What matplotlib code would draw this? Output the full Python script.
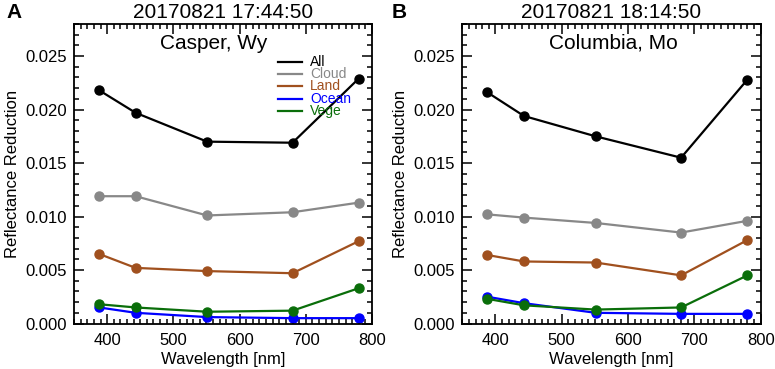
import matplotlib
matplotlib.use("Agg")
import matplotlib.pyplot as plt
from matplotlib.ticker import MultipleLocator

plt.rcParams['font.family'] = ['Liberation Sans', 'DejaVu Sans']

wavelengths = [388, 443, 551, 680, 780]
series_names = ["All", "Cloud", "Land", "Ocean", "Vege"]
series_colors = ["#000000", "#888888", "#a0501e", "#0000ff", "#0a6e0a"]

casper_all = [0.0218, 0.0197, 0.0170, 0.0169, 0.0229]
casper_cloud = [0.0119, 0.0119, 0.0101, 0.0104, 0.0113]
casper_land = [0.0065, 0.0052, 0.0049, 0.0047, 0.0077]
casper_ocean = [0.0015, 0.0010, 0.0006, 0.0005, 0.0005]
casper_vege = [0.0018, 0.0015, 0.0011, 0.0012, 0.0033]

columbia_all = [0.0216, 0.0194, 0.0175, 0.0155, 0.0228]
columbia_cloud = [0.0102, 0.0099, 0.0094, 0.0085, 0.0096]
columbia_land = [0.0064, 0.0058, 0.0057, 0.0045, 0.0078]
columbia_ocean = [0.0025, 0.0019, 0.0010, 0.0009, 0.0009]
columbia_vege = [0.0023, 0.0017, 0.0013, 0.0015, 0.0045]

panels = [
    ("A", "20170821 17:44:50", "Casper, Wy",
     [casper_all, casper_cloud, casper_land, casper_ocean, casper_vege]),
    ("B", "20170821 18:14:50", "Columbia, Mo",
     [columbia_all, columbia_cloud, columbia_land, columbia_ocean, columbia_vege]),
]

fig = plt.figure(figsize=(7.75, 3.69), dpi=100)
ax_rects = [[0.0955, 0.1233, 0.3845, 0.8117], [0.5965, 0.1233, 0.385, 0.8117]]

for i, (letter, title, place, data) in enumerate(panels):
    ax = fig.add_axes(ax_rects[i])
    for vals, name, col in zip(data, series_names, series_colors):
        ax.plot(wavelengths, vals, '-o', color=col, lw=1.6, ms=6.5, label=name)
    ax.set_xlim(350, 800)
    ax.set_ylim(0, 0.028)
    ax.xaxis.set_major_locator(MultipleLocator(100))
    ax.xaxis.set_minor_locator(MultipleLocator(10))
    ax.yaxis.set_major_locator(MultipleLocator(0.005))
    ax.yaxis.set_minor_locator(MultipleLocator(0.001))
    ax.yaxis.set_major_formatter(matplotlib.ticker.FormatStrFormatter('%.3f'))
    ax.tick_params(which='both', direction='in', top=True, right=True, width=1.1)
    ax.tick_params(which='major', length=7, labelsize=12)
    ax.tick_params(which='minor', length=3.5)
    ax.tick_params(axis='x', pad=7)
    ax.tick_params(axis='y', pad=5)
    for s in ax.spines.values():
        s.set_linewidth(1.3)
    ax.set_xlabel("Wavelength [nm]", fontsize=12, labelpad=3)
    ax.set_ylabel("Reflectance Reduction", fontsize=12, labelpad=4)
    ax.set_title(title, fontsize=15, pad=4)
    ax.text(0.289, 0.935, place, transform=ax.transAxes, fontsize=15,
            ha='left', va='center')
    fig.text(0.008 + i * 0.497, 0.967, letter, fontsize=15, fontweight='bold',
             ha='left', va='center')
    if i == 0:
        ys = [0.874, 0.833, 0.792, 0.751, 0.710]
        for y, name, col in zip(ys, series_names, series_colors):
            ax.plot([0.685, 0.765], [y, y], color=col, lw=1.6, transform=ax.transAxes)
            ax.text(0.792, y, name, color=col, fontsize=10, transform=ax.transAxes,
                    ha='left', va='center')

fig.savefig("out.png", dpi=100)
